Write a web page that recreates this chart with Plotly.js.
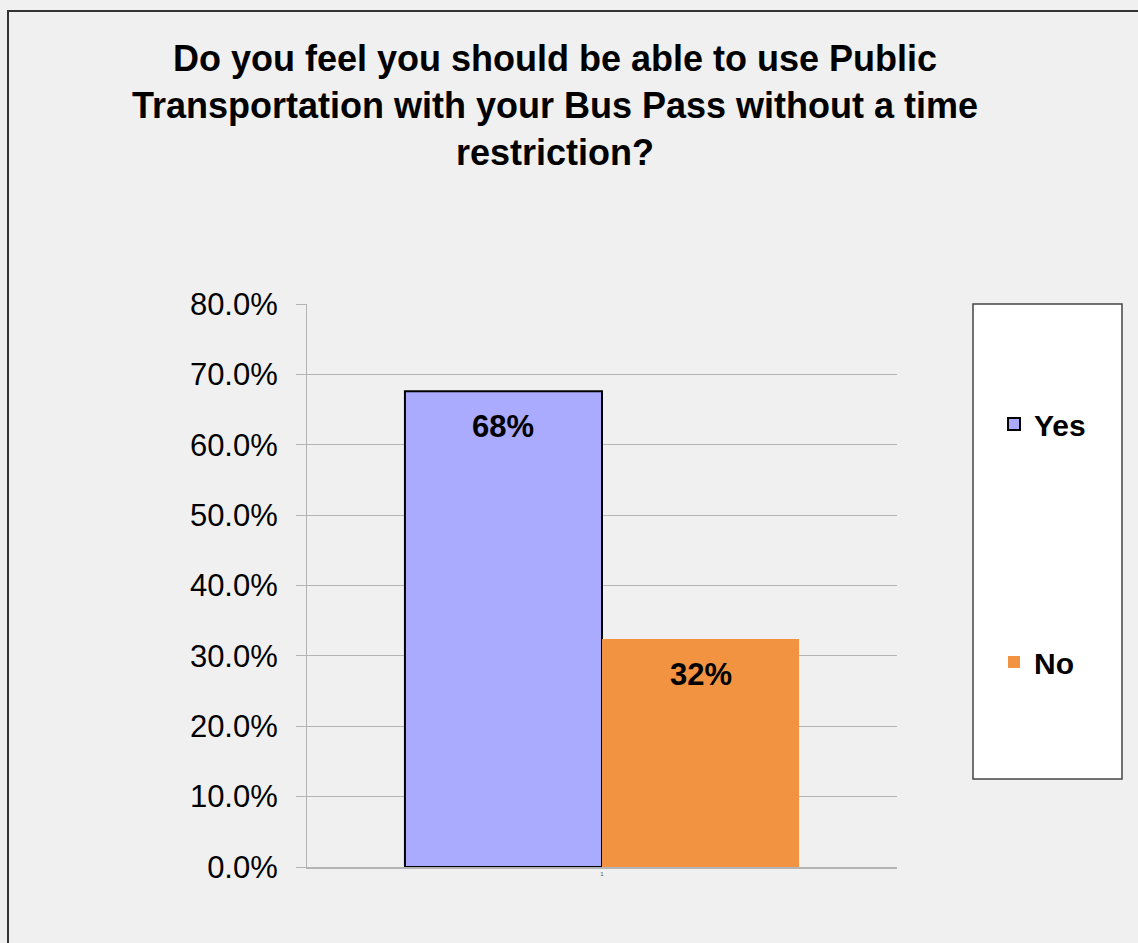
<!DOCTYPE html>
<html>
<head>
<meta charset="utf-8">
<script src="https://cdn.plot.ly/plotly-3.0.1.min.js"></script>
<style>
html,body{margin:0;padding:0;background:#f0f0f0;}
#chart{width:1138px;height:943px;}
</style>
</head>
<body>
<div id="chart"></div>
<script>
var categories = ["1"];
var seriesNames = ["Yes", "No"];
var yesValues = [67.6];
var noValues = [32.4];
var dataLabels = ["68%", "32%"];
var yTickVals = [0, 10, 20, 30, 40, 50, 60, 70, 80];
var yTickText = ["0.0%", "10.0%", "20.0%", "30.0%", "40.0%", "50.0%", "60.0%", "70.0%", "80.0%"];

var FONT = "Liberation Sans, Arial, sans-serif";
var plotW = 590;
var bargap = 0.332;
var barW = plotW * (1 - bargap) / 2;

var traces = [
  {
    type: "bar", name: seriesNames[0], x: categories, y: yesValues,
    marker: {color: "#aaaaff", line: {color: "#000000", width: 2}},
    legendgroup: "a", hoverinfo: "none"
  },
  {
    type: "bar", name: seriesNames[1], x: categories, y: noValues,
    marker: {color: "#f29341", line: {width: 0}},
    legendgroup: "b", hoverinfo: "none"
  }
];

var vals = [yesValues[0], noValues[0]];
var annotations = vals.map(function (v, i) {
  return {
    x: categories.indexOf(categories[0]), y: v, xref: "x", yref: "y",
    xshift: (i === 0 ? -1 : 1) * barW / 2,
    yshift: -16,
    yanchor: "top", xanchor: "center",
    text: "<b>" + dataLabels[i] + "</b>",
    showarrow: false,
    font: {family: FONT, size: 31, color: "#000"}
  };
});

function px2x(px) { return (px - 307) / 590; }
function px2y(py) { return (867 - py) / 563; }

var layout = {
  width: 1138, height: 943,
  paper_bgcolor: "#f0f0f0", plot_bgcolor: "#f0f0f0",
  margin: {l: 307, r: 241, t: 304, b: 76},
  barmode: "group", bargap: bargap, bargroupgap: 0,
  title: {
    text: "<b>Do you feel you should be able to use Public<br>Transportation with your Bus Pass without a time<br>restriction?</b>",
    font: {family: FONT, size: 36, color: "#000"},
    xref: "container", x: 555 / 1138, xanchor: "center",
    yref: "container", y: 1 - 71 / 943, yanchor: "top"
  },
  xaxis: {
    type: "category", range: [-0.5, 0.5],
    showgrid: false, zeroline: false,
    showline: true, linecolor: "#b4b4b4", linewidth: 2,
    ticks: "", tickfont: {family: FONT, size: 6, color: "#555"},
    fixedrange: true
  },
  yaxis: {
    range: [0, 80], tickvals: yTickVals, ticktext: yTickText,
    showgrid: true, gridcolor: "#b4b4b4", gridwidth: 1,
    zeroline: false, showline: true, linecolor: "#b4b4b4", linewidth: 1,
    ticks: "outside", ticklen: 10, tickcolor: "#b4b4b4", tickwidth: 1,
    ticklabelstandoff: 12,
    tickfont: {family: FONT, size: 31, color: "#000"},
    fixedrange: true
  },
  showlegend: true,
  legend: {
    x: px2x(994), xanchor: "left",
    y: px2y(398), yanchor: "top",
    bgcolor: "rgba(0,0,0,0)", borderwidth: 0,
    font: {family: FONT, size: 30, color: "#000", weight: "bold"},
    traceorder: "grouped", tracegroupgap: 196,
    itemclick: false, itemdoubleclick: false
  },
  shapes: [
    {type: "rect", xref: "paper", yref: "paper",
     x0: px2x(973), x1: px2x(1122), y0: px2y(779), y1: px2y(304),
     fillcolor: "#ffffff", line: {color: "#444", width: 1.5}, layer: "below"},
    {type: "rect", xref: "paper", yref: "paper",
     x0: px2x(8), x1: px2x(1200), y0: px2y(1000), y1: px2y(11),
     fillcolor: "rgba(0,0,0,0)", line: {color: "#333", width: 2}, layer: "above"}
  ],
  annotations: annotations
};

Plotly.newPlot("chart", traces, layout, {displayModeBar: false, staticPlot: true});
</script>
</body>
</html>
